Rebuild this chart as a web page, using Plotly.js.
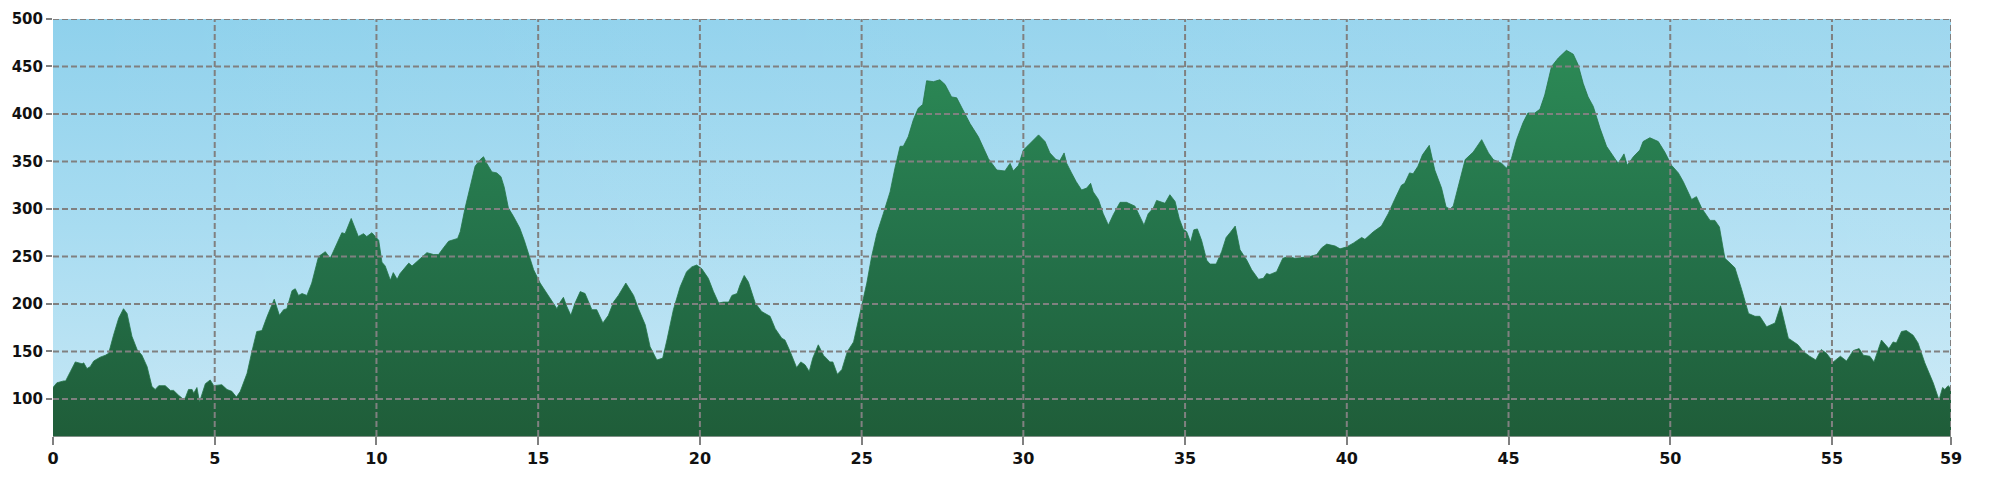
<!DOCTYPE html>
<html>
<head>
<meta charset="utf-8">
<script src="https://cdn.plot.ly/plotly-3.0.1.min.js"></script>
<style>
  html, body { margin: 0; padding: 0; background: #ffffff; }
  #chart { width: 1996px; height: 484px; }
</style>
</head>
<body>
<div id="chart"></div>
<script>
// Distance along the route (km)
const distKm = [
  0, 0.12, 0.33, 0.39, 0.54, 0.69, 0.90, 0.95, 1.05, 1.15, 1.26, 1.46, 1.62, 1.72, 1.87, 2.03, 2.18, 2.29, 2.44, 2.60,
  2.75, 2.91, 3.06, 3.16, 3.27, 3.47, 3.63, 3.73, 3.88, 4.02, 4.09, 4.19, 4.30, 4.35, 4.45, 4.53, 4.55, 4.71, 4.86, 4.97,
  5.22, 5.38, 5.53, 5.67, 5.79, 6.00, 6.15, 6.30, 6.46, 6.61, 6.84, 7.00, 7.13, 7.23, 7.39, 7.49, 7.59, 7.70, 7.85, 8.00,
  8.21, 8.42, 8.57, 8.73, 8.93, 9.03, 9.22, 9.44, 9.60, 9.70, 9.86, 10.07, 10.17, 10.27, 10.43, 10.52, 10.64, 10.73, 10.89, 11.00,
  11.10, 11.35, 11.56, 11.77, 11.92, 12.07, 12.23, 12.51, 12.59, 12.74, 12.90, 13.05, 13.21, 13.31, 13.41, 13.57, 13.72, 13.85, 13.95, 14.08,
  14.24, 14.43, 14.57, 14.70, 14.86, 15.06, 15.27, 15.47, 15.58, 15.68, 15.78, 15.89, 16.01, 16.14, 16.30, 16.45, 16.56, 16.66, 16.81, 17.00,
  17.17, 17.33, 17.48, 17.71, 17.95, 18.10, 18.31, 18.46, 18.67, 18.85, 18.98, 19.18, 19.39, 19.59, 19.75, 19.90, 20.06, 20.26, 20.42, 20.58,
  20.73, 20.89, 20.99, 21.15, 21.24, 21.37, 21.50, 21.71, 21.91, 22.17, 22.33, 22.53, 22.63, 22.79, 22.99, 23.12, 23.25, 23.38, 23.49, 23.66,
  23.82, 24.02, 24.11, 24.25, 24.39, 24.56, 24.75, 24.90, 25.00, 25.16, 25.31, 25.47, 25.67, 25.88, 26.03, 26.19, 26.29, 26.44, 26.60, 26.75,
  26.89, 27.01, 27.22, 27.42, 27.58, 27.78, 27.94, 28.14, 28.35, 28.61, 28.92, 29.18, 29.33, 29.43, 29.59, 29.69, 29.85, 30.00, 30.15, 30.31,
  30.47, 30.67, 30.82, 31.01, 31.13, 31.26, 31.34, 31.49, 31.63, 31.80, 31.96, 32.08, 32.16, 32.32, 32.47, 32.63, 32.78, 32.99, 33.19, 33.45,
  33.61, 33.73, 33.86, 34.02, 34.12, 34.22, 34.38, 34.53, 34.69, 34.82, 34.94, 35.05, 35.17, 35.27, 35.38, 35.51, 35.67, 35.77, 35.96, 36.13,
  36.27, 36.39, 36.55, 36.70, 36.91, 37.06, 37.27, 37.42, 37.52, 37.62, 37.83, 38.02, 38.19, 38.40, 38.66, 38.86, 39.07, 39.22, 39.38, 39.48,
  39.64, 39.79, 39.99, 40.20, 40.46, 40.56, 40.82, 41.07, 41.28, 41.48, 41.69, 41.79, 41.94, 42.05, 42.20, 42.34, 42.55, 42.72, 42.93, 43.07,
  43.19, 43.29, 43.45, 43.66, 43.91, 44.17, 44.38, 44.53, 44.79, 44.94, 45.09, 45.25, 45.45, 45.60, 45.81, 45.97, 46.12, 46.33, 46.54, 46.79,
  47.00, 47.15, 47.31, 47.46, 47.62, 47.83, 48.03, 48.24, 48.39, 48.57, 48.67, 48.86, 49.06, 49.16, 49.37, 49.63, 49.83, 50.04, 50.25, 50.40,
  50.66, 50.81, 50.97, 51.23, 51.38, 51.52, 51.69, 51.85, 52.00, 52.21, 52.42, 52.62, 52.77, 52.98, 53.24, 53.41, 53.65, 53.95, 54.11, 54.31,
  54.50, 54.67, 54.83, 55.04, 55.26, 55.45, 55.66, 55.84, 55.97, 56.17, 56.30, 56.53, 56.76, 56.89, 56.99, 57.15, 57.30, 57.51, 57.66, 57.87,
  58.13, 58.31, 58.42, 58.49, 58.59, 58.68
];

// Elevation (m)
const elevation = [
  112, 117, 119, 119, 129, 139, 137, 138, 132, 134, 140, 144, 146, 148, 167, 185, 195, 190, 166, 152,
  146, 134, 113, 110, 114, 114, 109, 109, 104, 100, 101, 110, 110, 106, 112, 97, 99, 116, 120, 114,
  115, 110, 108, 102, 108, 127, 150, 171, 172, 186, 205, 188, 194, 195, 214, 216, 209, 211, 209, 222,
  250, 255, 248, 260, 275, 274, 290, 271, 274, 271, 275, 267, 244, 240, 225, 233, 226, 232, 239, 243,
  240, 248, 254, 252, 252, 259, 266, 269, 276, 301, 323, 345, 352, 355, 348, 339, 338, 334, 323, 301,
  292, 280, 267, 252, 236, 222, 211, 201, 195, 202, 207, 197, 188, 201, 213, 211, 202, 194, 194, 180,
  188, 202, 209, 222, 209, 195, 178, 155, 141, 143, 162, 194, 218, 234, 239, 241, 237, 227, 213, 201,
  202, 202, 209, 211, 220, 230, 223, 201, 192, 187, 174, 164, 162, 150, 133, 139, 136, 129, 143, 157,
  146, 139, 139, 126, 131, 150, 160, 183, 197, 222, 250, 274, 295, 318, 343, 366, 366, 376, 394, 406,
  410, 435, 434, 436, 431, 418, 417, 403, 390, 376, 353, 341, 340, 340, 348, 340, 346, 362, 367, 373,
  378, 371, 359, 352, 351, 359, 348, 338, 329, 320, 322, 327, 318, 310, 295, 283, 294, 307, 307, 303,
  291, 283, 295, 301, 309, 308, 306, 315, 308, 290, 279, 276, 265, 278, 279, 267, 246, 242, 242, 255,
  270, 275, 282, 257, 246, 236, 226, 227, 232, 231, 234, 248, 250, 248, 249, 250, 252, 259, 263, 262,
  261, 258, 260, 264, 270, 268, 276, 282, 295, 310, 325, 327, 338, 337, 345, 357, 367, 341, 322, 302,
  300, 303, 324, 352, 360, 373, 359, 352, 348, 343, 353, 373, 391, 401, 401, 405, 420, 450, 459, 467,
  463, 452, 432, 418, 408, 385, 366, 355, 348, 358, 346, 355, 362, 371, 375, 371, 360, 346, 338, 329,
  310, 313, 301, 288, 288, 281, 248, 243, 238, 215, 190, 187, 187, 176, 180, 198, 164, 157, 150, 145,
  141, 152, 148, 139, 145, 140, 151, 153, 146, 145, 139, 162, 153, 160, 159, 171, 172, 167, 159, 138,
  117, 99, 112, 110, 114, 111
];

// Axis ticks
const xTickVals = [0, 5, 10, 15, 20, 25, 30, 35, 40, 45, 50, 55, 58.68];
const xTickText = ['0', '5', '10', '15', '20', '25', '30', '35', '40', '45', '50', '55', '59'];
const yTickVals = [100, 150, 200, 250, 300, 350, 400, 450, 500];

const xMax = distKm[distKm.length - 1];
const yMin = 61, yMax = 500;

// Sky gradient background image (SVG data URI)
const skySvg =
  '<svg xmlns="http://www.w3.org/2000/svg" width="1900" height="417" viewBox="0 0 1900 417" preserveAspectRatio="none">' +
  '<defs>' +
  '<linearGradient id="v" x1="0" y1="0" x2="0" y2="1">' +
  '<stop offset="0" stop-color="#8fd1ec"/>' +
  '<stop offset="0.5" stop-color="#a8dcf1"/>' +
  '<stop offset="1" stop-color="#c6e7f5"/>' +
  '</linearGradient>' +
  '<linearGradient id="h" x1="0" y1="0" x2="1" y2="0">' +
  '<stop offset="0" stop-color="#ffffff" stop-opacity="0"/>' +
  '<stop offset="1" stop-color="#ffffff" stop-opacity="0.14"/>' +
  '</linearGradient>' +
  '</defs>' +
  '<rect x="0" y="0" width="1900" height="417" fill="url(#v)"/>' +
  '<rect x="0" y="0" width="1900" height="417" fill="url(#h)"/>' +
  '</svg>';
const skyUri = 'data:image/svg+xml;charset=utf-8,' + encodeURIComponent(skySvg);

const gridStyle = { color: '#808080', width: 2, dash: '6px,3px' };

const shapes = [];
yTickVals.forEach(v => {
  shapes.push({ type: 'line', xref: 'paper', yref: 'y', x0: 0, x1: 1, y0: v, y1: v, line: gridStyle, layer: 'above' });
});
xTickVals.filter(v => v > 0).forEach(v => {
  shapes.push({ type: 'line', xref: 'x', yref: 'paper', x0: v, x1: v, y0: 0, y1: 1, line: gridStyle, layer: 'above' });
});

const trace = {
  x: distKm,
  y: elevation,
  type: 'scatter',
  mode: 'lines',
  fill: 'tozeroy',
  line: { color: '#247548', width: 0.8, shape: 'linear' },
  fillgradient: {
    type: 'vertical',
    start: yMin,
    stop: 470,
    colorscale: [[0, '#1f5d39'], [0.5, '#24724a'], [1, '#2c8a56']]
  },
  hoverinfo: 'skip'
};

const layout = {
  width: 1996,
  height: 484,
  margin: { l: 53, r: 45, t: 19, b: 48 },
  paper_bgcolor: '#ffffff',
  plot_bgcolor: '#a8dcf1',
  showlegend: false,
  images: [{
    source: skyUri, xref: 'paper', yref: 'paper', x: 0, y: 1, sizex: 1, sizey: 1,
    xanchor: 'left', yanchor: 'top', sizing: 'stretch', layer: 'below'
  }],
  xaxis: {
    range: [0, xMax],
    tickmode: 'array',
    tickvals: xTickVals,
    ticktext: xTickText,
    showgrid: false,
    zeroline: false,
    showline: true,
    linecolor: '#7f8f86',
    linewidth: 1,
    ticks: 'outside',
    ticklen: 8,
    tickwidth: 2,
    tickcolor: '#808080',
    tickfont: { family: 'DejaVu Sans, sans-serif', size: 16, color: '#111111', weight: 'bold' },
    fixedrange: true
  },
  yaxis: {
    range: [yMin, yMax],
    tickmode: 'array',
    tickvals: yTickVals,
    showgrid: false,
    zeroline: false,
    showline: false,
    ticks: 'outside',
    ticklen: 6,
    tickwidth: 2,
    tickcolor: '#808080',
    tickfont: { family: 'DejaVu Sans, sans-serif', size: 15, color: '#111111', weight: 'bold' },
    fixedrange: true
  },
  shapes: shapes
};

Plotly.newPlot('chart', [trace], layout, { displayModeBar: false, staticPlot: true });
</script>
</body>
</html>
